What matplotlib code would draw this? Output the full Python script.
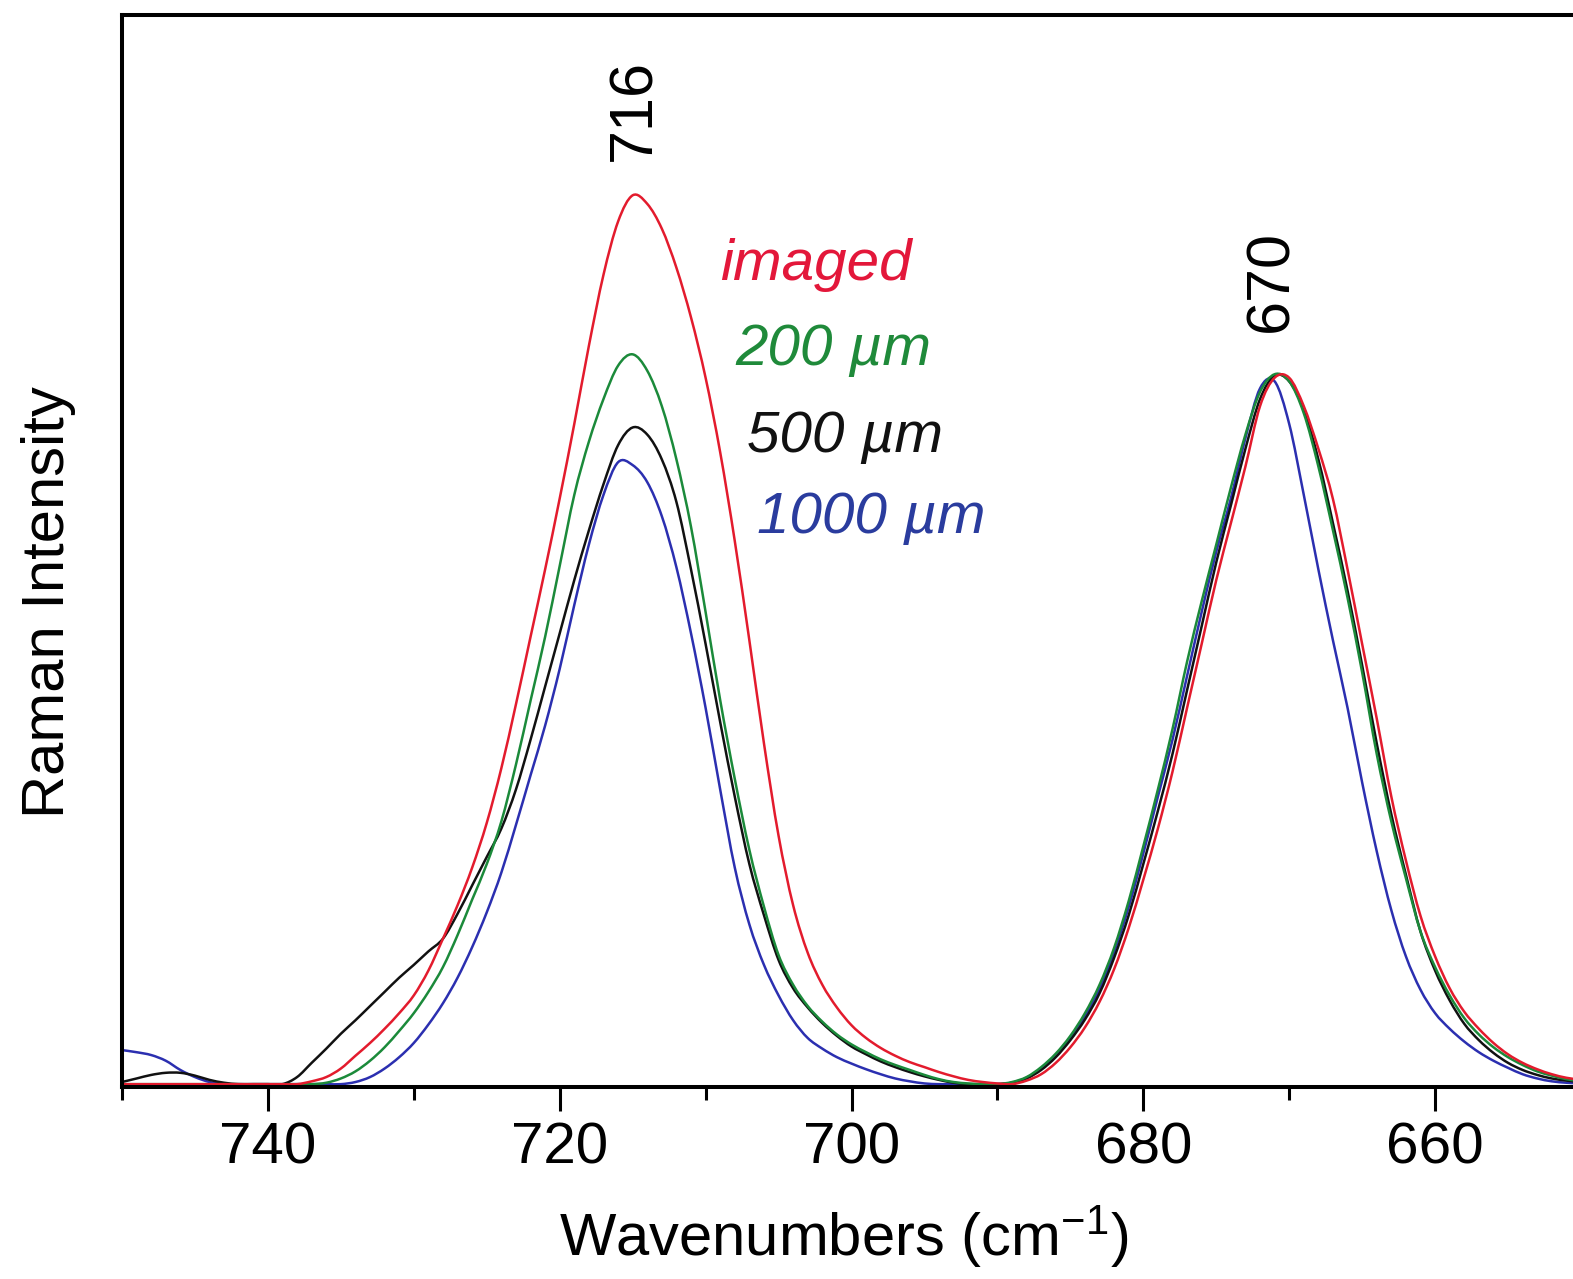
import numpy as np
import matplotlib
matplotlib.use("Agg")
import matplotlib.pyplot as plt
from matplotlib.path import Path
from matplotlib.patches import PathPatch
from matplotlib.ticker import MultipleLocator

plt.rcParams["font.family"] = ["Liberation Sans", "DejaVu Sans"]
plt.rcParams["mathtext.fontset"] = "custom"
plt.rcParams["mathtext.rm"] = "Liberation Sans"
plt.rcParams["mathtext.it"] = "Liberation Sans:italic"

# Raman shift axis, 750 -> 650 cm-1 in 1 cm-1 steps
wavenumbers = np.arange(750, 649, -1)

# Intensities (normalised to the 670 cm-1 band), one row per 10 cm-1
imaged = [
    0, 0, 0, 0, 0, 0, 0, 0, 0, 0,                                   # 750-741
    0, 0, 0, 0.004, 0.010, 0.022, 0.040, 0.058, 0.078, 0.100,       # 740-731
    0.125, 0.160, 0.205, 0.252, 0.305, 0.368, 0.445, 0.535, 0.630, 0.725,  # 730-721
    0.825, 0.930, 1.040, 1.140, 1.215, 1.252, 1.240, 1.205, 1.150, 1.080,  # 720-711
    0.995, 0.890, 0.765, 0.625, 0.480, 0.350, 0.252, 0.185, 0.140, 0.108,  # 710-701
    0.083, 0.065, 0.051, 0.040, 0.031, 0.024, 0.017, 0.011, 0.006, 0.003,  # 700-691
    0.001, 0, 0.005, 0.014, 0.030, 0.052, 0.080, 0.116, 0.162, 0.220,      # 690-681
    0.288, 0.360, 0.440, 0.530, 0.620, 0.710, 0.790, 0.870, 0.955, 0.995,  # 680-671
    0.995, 0.955, 0.895, 0.824, 0.725, 0.620, 0.515, 0.405, 0.315, 0.237,  # 670-661
    0.180, 0.135, 0.102, 0.078, 0.058, 0.042, 0.030, 0.021, 0.014, 0.009,  # 660-651
    0.006,                                                                 # 650
]
um200 = [
    0, 0, 0, 0, 0, 0, 0, 0, 0, 0,
    0, 0, 0, 0, 0.002, 0.008, 0.018, 0.033, 0.052, 0.075,
    0.100, 0.130, 0.165, 0.210, 0.260, 0.310, 0.370, 0.450, 0.540, 0.630,
    0.730, 0.830, 0.905, 0.965, 1.012, 1.028, 1.005, 0.955, 0.880, 0.785,
    0.665, 0.541, 0.430, 0.330, 0.250, 0.182, 0.140, 0.110, 0.088, 0.070,
    0.056, 0.045, 0.035, 0.027, 0.020, 0.013, 0.007, 0.003, 0.001, 0,
    0, 0.003, 0.010, 0.024, 0.043, 0.068, 0.100, 0.140, 0.192, 0.258,
    0.335, 0.415, 0.500, 0.595, 0.680, 0.760, 0.840, 0.915, 0.975, 1.000,
    0.990, 0.945, 0.870, 0.780, 0.685, 0.580, 0.465, 0.370, 0.290, 0.215,
    0.165, 0.125, 0.093, 0.070, 0.052, 0.038, 0.027, 0.018, 0.012, 0.007,
    0.004,
]
um500 = [
    0.003, 0.008, 0.013, 0.016, 0.016, 0.012, 0.006, 0.002, 0, 0,
    0, 0, 0.010, 0.030, 0.050, 0.071, 0.090, 0.110, 0.130, 0.150,
    0.168, 0.187, 0.205, 0.240, 0.280, 0.320, 0.360, 0.415, 0.485, 0.560,
    0.635, 0.710, 0.780, 0.845, 0.900, 0.925, 0.915, 0.880, 0.820, 0.725,
    0.620, 0.510, 0.405, 0.310, 0.238, 0.175, 0.135, 0.108, 0.086, 0.068,
    0.053, 0.042, 0.032, 0.024, 0.017, 0.011, 0.006, 0.002, 0, 0,
    0, 0.002, 0.008, 0.020, 0.038, 0.062, 0.091, 0.128, 0.178, 0.238,
    0.310, 0.385, 0.465, 0.555, 0.645, 0.735, 0.815, 0.895, 0.965, 0.998,
    0.990, 0.950, 0.880, 0.790, 0.695, 0.590, 0.480, 0.380, 0.295, 0.215,
    0.160, 0.118, 0.085, 0.062, 0.044, 0.030, 0.020, 0.013, 0.008, 0.005,
    0.003,
]
um1000 = [
    0.048, 0.045, 0.041, 0.033, 0.020, 0.010, 0.003, 0, 0, 0,
    0, 0, 0, 0, 0, 0, 0.003, 0.010, 0.022, 0.038,
    0.058, 0.084, 0.114, 0.150, 0.193, 0.242, 0.298, 0.365, 0.435, 0.505,
    0.585, 0.675, 0.760, 0.830, 0.876, 0.872, 0.848, 0.800, 0.728, 0.635,
    0.530, 0.415, 0.305, 0.225, 0.168, 0.125, 0.090, 0.065, 0.050, 0.038,
    0.029, 0.021, 0.014, 0.008, 0.004, 0.001, 0, 0, 0, 0,
    0, 0.002, 0.009, 0.022, 0.041, 0.066, 0.096, 0.134, 0.186, 0.250,
    0.325, 0.405, 0.485, 0.575, 0.665, 0.750, 0.825, 0.910, 0.980, 0.990,
    0.930, 0.830, 0.725, 0.625, 0.530, 0.425, 0.328, 0.245, 0.180, 0.133,
    0.100, 0.078, 0.060, 0.045, 0.033, 0.023, 0.014, 0.008, 0.004, 0.002,
    0.001,
]

series_labels = ["imaged", "200 µm", "500 µm", "1000 µm"]
line_colors = ["#e31b2d", "#1b8a3a", "#111111", "#2b2fb0"]
text_colors = ["#e3173a", "#1f8a3a", "#111111", "#2a3c9e"]
peak_labels = ["716", "670"]


def smooth_path(x, y):
    """Cubic Bezier path through every point (Catmull-Rom tangents)."""
    p = np.column_stack([x, y]).astype(float)
    ext = np.vstack([p[0], p, p[-1]])
    verts = [p[0]]
    codes = [Path.MOVETO]
    for i in range(len(p) - 1):
        p0, p1, p2, p3 = ext[i], ext[i + 1], ext[i + 2], ext[i + 3]
        verts += [p1 + (p2 - p0) / 6.0, p2 - (p3 - p1) / 6.0, p2]
        codes += [Path.CURVE4] * 3
    return Path(verts, codes)


W, H = 1573, 1279
fig = plt.figure(figsize=(W / 100, H / 100), dpi=100)
ax = fig.add_axes([122 / W, 1 - 1087 / H, (1581 - 122) / W, (1087 - 15) / H])

# draw from back to front
for y, c in reversed(list(zip([imaged, um200, um500, um1000], line_colors))):
    ax.add_patch(PathPatch(smooth_path(wavenumbers, y), fill=False,
                           edgecolor=c, lw=1.8, joinstyle="round"))

ax.set_xlim(750, 650)
ax.set_ylim(-0.004, 1.506)

for s in ax.spines.values():
    s.set_linewidth(2.9)
    s.set_zorder(5)
ax.xaxis.set_major_locator(MultipleLocator(20))
ax.xaxis.set_minor_locator(MultipleLocator(10))
ax.tick_params(axis="x", which="major", direction="out", length=17, width=2.2,
               labelsize=42, pad=8, top=False)
ax.tick_params(axis="x", which="minor", direction="out", length=9, width=2.2, top=False)
ax.tick_params(axis="y", which="both", left=False, right=False, labelleft=False)


def px(x, y):
    return x / W, 1 - y / H


fig.text(*px(844, 1256), "Wavenumbers (cm$^{\\mathregular{-1}}$)", fontsize=43,
         ha="center", va="baseline")
fig.text(*px(64, 602), "Raman Intensity", fontsize=43, rotation=90,
         rotation_mode="anchor", ha="center", va="baseline")

# peak position labels
fig.text(*px(650, 110), peak_labels[0], fontsize=44, rotation=90,
         rotation_mode="anchor", ha="center", va="baseline")
fig.text(*px(1287, 281), peak_labels[1], fontsize=44, rotation=90,
         rotation_mode="anchor", ha="center", va="baseline")

# series labels
label_pos = [(720, 280), (735, 365), (747, 452), (757, 533)]
for (x, y), t, c in zip(label_pos, series_labels, text_colors):
    fig.text(*px(x, y), t, fontsize=42, style="italic", color=c,
             ha="left", va="baseline")

fig.savefig("out.png", dpi=100, facecolor="white")
